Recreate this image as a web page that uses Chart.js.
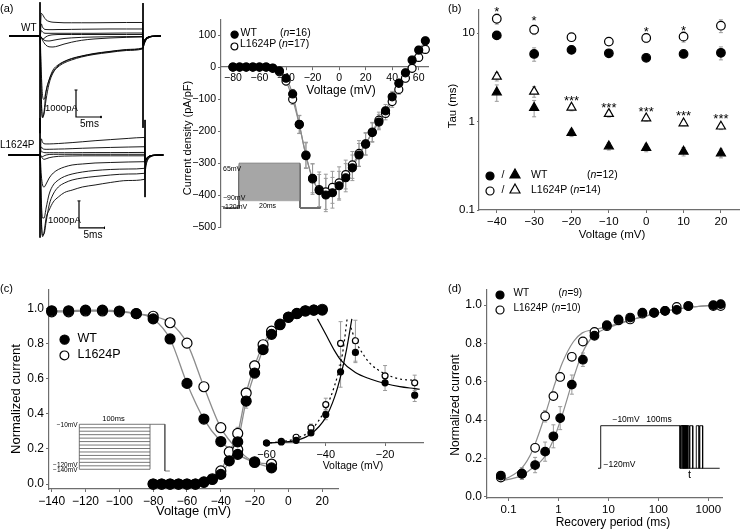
<!DOCTYPE html>
<html>
<head>
<meta charset="utf-8">
<script src="https://cdn.jsdelivr.net/npm/chart.js@4.4.1/dist/chart.umd.min.js"></script>
<style>
  body { margin: 0; background: #fff; }
  #fig { position: relative; width: 746px; height: 530px; overflow: hidden;
         font-family: "Liberation Sans", Arial, sans-serif; color: #000; }
  #fig canvas { position: absolute; }
  .t { position: absolute; white-space: nowrap; line-height: 1; }
  .m { position: absolute; }
</style>
</head>
<body>
<div id="fig"></div>
<script>
// ---------- (a) current traces: time in ms, current in pA ----------
const traceT = [0, 6.1, 6.2, 6.45, 6.7, 7.0, 7.4, 8.0, 8.8, 9.8, 11, 12.5, 14.5, 17, 20, 23.5, 26.7, 26.8, 27.0, 27.3, 27.8, 28.6, 30.4];
const wtTraces = [
  [0,0,0,-2185,-3037,-2815,-2074,-1630,-1260,-1074,-944,-833,-741,-648,-574,-500,-444,-430,-300,-170,-75,-20,0],
  [0,0,0,-2370,-3000,-2890,-2370,-1778,-1370,-1148,-1000,-889,-778,-685,-611,-537,-481,-460,-320,-180,-80,-20,0],
  [0,0,0,-1300,-2200,-2350,-2050,-1650,-1330,-1110,-960,-850,-750,-660,-585,-515,-460,-440,-310,-175,-78,-20,0],
  [0,0,0,-60,-150,-250,-340,-400,-407,-370,-300,-230,-160,-110,-75,-50,-37,-300,-200,-110,-45,-10,0],
  [0,0,0,-40,-100,-150,-180,-185,-160,-125,-93,-70,-50,-37,-28,-22,-19,-300,-190,-100,-40,-10,0],
  [0,0,0,-60,-110,-90,-30,20,45,55,55,55,55,55,55,55,55,-320,-200,-110,-45,-10,0],
  [0,0,0,200,150,110,100,100,100,100,100,100,100,100,105,110,110,-330,-210,-110,-45,-10,0],
  [0,0,0,450,330,260,240,235,235,240,240,245,250,255,260,260,260,-350,-220,-115,-45,-10,0],
  [0,0,0,840,800,700,600,540,510,500,490,490,490,490,495,500,500,-370,-230,-120,-48,-12,0]
];
const mutTraces = [
  [0,0,0,-2222,-3025,-2850,-2333,-2037,-1740,-1555,-1390,-1300,-1185,-1111,-1018,-944,-900,-700,-400,-200,-80,-20,0],
  [0,0,0,-2407,-2963,-2926,-2481,-1850,-1444,-1185,-1037,-926,-852,-796,-741,-704,-678,-550,-330,-170,-70,-15,0],
  [0,0,0,-1667,-2333,-2333,-1963,-1444,-1111,-926,-796,-704,-630,-574,-537,-519,-493,-420,-270,-140,-60,-15,0],
  [0,0,0,-741,-1111,-1185,-1074,-852,-667,-537,-444,-370,-333,-296,-278,-259,-248,-300,-200,-110,-45,-10,0],
  [0,0,0,-60,-130,-160,-140,-100,-70,-50,-40,-35,-30,-30,-30,-30,-30,-250,-170,-90,-35,-8,0],
  [0,0,0,-40,-60,-30,0,20,25,25,25,25,25,25,25,25,25,-230,-160,-85,-35,-8,0],
  [0,0,0,150,110,90,85,85,85,85,85,85,88,90,90,92,95,-220,-150,-80,-30,-8,0],
  [0,0,0,300,240,215,210,212,215,220,225,235,250,265,280,295,307,-220,-150,-80,-30,-8,0],
  [0,0,0,600,470,420,410,410,415,425,440,460,490,530,570,615,650,-240,-160,-85,-35,-8,0]
];
// capacitive transients at pulse on / off: [time, top, bottom]
const wtSpikes = [[6.2, 1250, -3600], [26.8, 1220, -3400]];
const mutSpikes = [[6.2, 1370, -3060], [26.8, 1300, -1560]];

// ---------- (a) I-V relation ----------
const ivV = [-80,-75,-70,-65,-60,-55,-50,-45,-40,-35,-30,-25,-20,-15,-10,-5,0,5,10,15,20,25,30,35,40,45,50,55,60,65];
const ivWt = [0,0,0,0,0,0,-3,-12,-35,-84,-179,-277,-348,-386,-400,-393,-371,-346,-315,-275,-241,-205,-172,-137,-93,-51,-18,22,53,82];
const ivMut = [0,0,0,0,0,0,-4,-15,-44,-101,-180,-275,-350,-383,-390,-376,-362,-336,-306,-270,-240,-203,-166,-145,-108,-70,-35,-4,30,55];
const ivWtErr = [0,0,0,0,0,0,3,6,10,14,28,40,45,50,52,48,45,44,40,36,34,30,24,20,17,15,12,12,12,12];
const ivMutErr = [0,0,0,0,0,0,3,6,12,16,28,40,48,55,55,50,50,45,42,40,35,30,25,20,18,15,12,12,12,12];
const ivXTicks = [-80,-60,-40,-20,0,20,40,60];
const ivYTicks = [-500,-400,-300,-200,-100,0,100];
const ivStepLevels = [65,60,55,50,45,40,35,30,25,20,15,10,5,0,-5,-10,-15,-20,-25,-30,-35,-40,-45,-50,-55,-60,-65,-70,-75,-80,-85,-90];

// ---------- (b) time constants ----------
const tauV = [-40,-30,-20,-10,0,10,20];
const tauSlowWt = [9.4,5.8,6.45,5.9,5.25,5.8,5.97];
const tauSlowMut = [14.5,10.9,8.97,8.0,8.8,9.1,12.1];
const tauFastWt = [2.14,1.43,0.745,0.526,0.505,0.458,0.438];
const tauFastMut = [3.22,2.18,1.44,1.22,1.09,0.957,0.88];
const tauSlowWtErr = [0.6,1.0,0.3,0.3,0.3,0.5,1.0];
const tauSlowMutErr = [1.9,1.3,0.5,0.4,1.0,1.2,2.0];
const tauFastWtErr = [0.45,0.3,0.07,0.05,0.05,0.05,0.05];
const tauFastMutErr = [0.35,0.3,0.12,0.1,0.08,0.06,0.07];
const starV = [-40,-30,0,10,-20,-10,0,10,20];
const starTau = [17.1,13.5,10.1,10.5,1.68,1.40,1.26,1.15,1.05];
const starText = ['*','*','*','*','***','***','***','***','***'];

// ---------- (c) steady-state activation / inactivation ----------
const inactV = [-140,-130,-120,-110,-100,-90,-80,-70,-60,-50,-40,-30,-20,-10];
const inactWt = [0.986,0.986,0.99,0.99,0.985,0.97,0.94,0.826,0.573,0.37,0.242,0.169,0.123,0.092];
const inactMut = [0.98,0.98,0.985,0.985,0.98,0.97,0.955,0.918,0.802,0.554,0.321,0.196,0.127,0.114];
const inactWtErr = [0,0,0,0,0,0,0.01,0.015,0.02,0.02,0.02,0.015,0.01,0.01];
const inactMutErr = [0,0,0,0,0,0,0.01,0.015,0.02,0.025,0.02,0.015,0.01,0.01];
const actV = [-80,-75,-70,-65,-60,-55,-50,-45,-40,-35,-30,-25,-20,-15,-10,-5,0,5,10,15,20];
const actWt = [0,0,0,0,0,0,0.01,0.026,0.055,0.132,0.24,0.472,0.632,0.765,0.852,0.907,0.949,0.971,0.986,0.99,0.99];
const actMut = [0,0,0,0,0,0,0.012,0.03,0.075,0.183,0.288,0.518,0.673,0.793,0.87,0.91,0.95,0.97,0.985,0.99,0.995];
const actWtErr = [0,0,0,0,0,0,0,0.01,0.015,0.02,0.03,0.04,0.03,0.02,0.015,0.01,0.01,0.01,0.01,0.01,0.01];
const actMutErr = [0,0,0,0,0,0,0,0.01,0.015,0.02,0.035,0.03,0.03,0.02,0.015,0.01,0.01,0.01,0.01,0.01,0.01];
const cXTicks = [-140,-120,-100,-80,-60,-40,-20,0,20];
const cYTicks = [0,0.2,0.4,0.6,0.8,1.0];
const cStepLevels = [-10,-20,-30,-40,-50,-60,-70,-80,-90,-100,-110,-120,-130,-140];

// (c) inset: window region
const winV = [-60,-55,-50,-45,-40,-35,-30,-20,-10];
const winWt = [0.0,0.008,0.021,0.079,0.222,0.556,0.708,0.47,0.374];
const winMut = [0.0,0.013,0.045,0.118,0.3,0.778,0.799,0.525,0.47];
const winWtErr = [0,0.01,0.01,0.02,0.04,0.12,0.08,0.06,0.05];
const winMutErr = [0,0.01,0.015,0.03,0.05,0.17,0.16,0.08,0.06];
const riseWtV = [-60.5,-55,-50,-45,-40,-37,-35,-33,-31.2];
const riseWt = [0,0.006,0.02,0.07,0.2,0.36,0.52,0.73,0.97];
const riseMutV = [-60.5,-55,-50,-45,-40,-37,-35,-34,-32.8];
const riseMut = [0,0.01,0.035,0.1,0.27,0.45,0.62,0.75,0.97];
const fallWtV = [-42.8,-40,-37,-35,-30,-25,-20,-15,-10,-8.3];
const fallWt = [0.97,0.85,0.72,0.65,0.55,0.5,0.465,0.44,0.425,0.42];
const fallMutV = [-31.5,-30,-27,-25,-20,-15,-10];
const fallMut = [0.9,0.8,0.68,0.62,0.54,0.5,0.49];
const winXTicks = [-60,-40,-20];

// ---------- (d) recovery from inactivation ----------
const recT = [0.07,0.185,0.34,0.54,0.79,1.08,1.85,3.08,5.25,9.3,15.9,27.2,47.9,82,136,233,398,1259,1770];
const recWt = [0.11,0.12,0.165,0.235,0.315,0.41,0.585,0.715,0.84,0.895,0.925,0.935,0.96,0.96,0.97,0.975,0.995,1.0,1.005];
const recMut = [0.1,0.12,0.255,0.42,0.525,0.625,0.73,0.81,0.86,0.89,0.92,0.925,0.955,0.96,0.97,0.99,0.995,0.995,0.995];
const recWtErr = [0.02,0.03,0.04,0.05,0.06,0.06,0.05,0.035,0.015,0.01,0.01,0.01,0.01,0.01,0.01,0.01,0.005,0.005,0.005];
const recMutErr = [0.02,0.03,0.02,0.03,0.02,0.02,0.02,0.01,0.01,0.01,0.01,0.01,0.01,0.01,0.01,0.01,0.005,0.005,0.005];
const fitT = [0.065,0.1,0.185,0.3,0.5,0.8,1.2,2,3,5,9,16,30,60,120,250,500,1000,1900];
const fitWt = [0.08,0.09,0.11,0.15,0.2,0.3,0.43,0.62,0.75,0.84,0.878,0.9,0.925,0.945,0.965,0.98,0.99,0.997,1.0];
const fitMut = [0.085,0.1,0.15,0.24,0.4,0.57,0.7,0.81,0.855,0.872,0.885,0.905,0.925,0.945,0.965,0.98,0.99,0.997,1.0];
const recXTicks = [0.1,1,10,100,1000];
const recYTicks = [0,0.2,0.4,0.6,0.8,1.0];
const recGaps = [0.5,1.5,2.5,3.5,4.5,6,8,12.5,20.5,25];

// ---------- helpers ----------
Chart.defaults.font.family = '"Liberation Sans", Arial, sans-serif';
Chart.defaults.color = '#000';
const fig = document.getElementById('fig');
const axisColor = '#6e6e6e';
const minus = v => String(v).replace('-', '\u2212');
const pts = (xs, ys) => xs.map((x, i) => ({x: x, y: ys[i]}));

function addCanvas(left, top, w, h) {
  const c = document.createElement('canvas');
  c.width = w; c.height = h;
  c.style.left = left + 'px'; c.style.top = top + 'px';
  c.style.width = w + 'px'; c.style.height = h + 'px';
  fig.appendChild(c);
  return c;
}

function label(str, x, y, size, align, rot) {
  const d = document.createElement('div');
  d.className = 't';
  d.innerHTML = str;
  d.style.left = x + 'px';
  d.style.top = y + 'px';
  d.style.fontSize = size + 'px';
  const tx = align === 'l' ? '0' : align === 'r' ? '-100%' : '-50%';
  d.style.transform = 'translate(' + tx + ',-50%)' + (rot ? ' rotate(-90deg)' : '');
  fig.appendChild(d);
}

function marker(shape, filled, x, y, r) {
  const s = 2 * r + 4;
  const c = s / 2;
  const fill = filled ? '#000' : '#fff';
  const body = shape === 'tri'
    ? '<polygon points="' + c + ',' + (c - r) + ' ' + (c + r) + ',' + (c + r * 0.8) + ' ' + (c - r) + ',' + (c + r * 0.8) + '" fill="' + fill + '" stroke="#000" stroke-width="1.2"/>'
    : '<circle cx="' + c + '" cy="' + c + '" r="' + r + '" fill="' + fill + '" stroke="#000" stroke-width="1.2"/>';
  const d = document.createElement('div');
  d.className = 'm';
  d.style.left = (x - c) + 'px';
  d.style.top = (y - c) + 'px';
  d.innerHTML = '<svg width="' + s + '" height="' + s + '">' + body + '</svg>';
  fig.appendChild(d);
}

// gray SEM bars under the markers
const errorBars = {
  id: 'errorBars',
  beforeDatasetsDraw(chart) {
    const ctx = chart.ctx;
    chart.data.datasets.forEach((ds, i) => {
      if (!ds.errors) return;
      const meta = chart.getDatasetMeta(i);
      const ys = chart.scales[meta.yAxisID];
      ctx.save();
      ctx.strokeStyle = '#9a9a9a';
      ctx.lineWidth = 1;
      meta.data.forEach((pt, j) => {
        const e = ds.errors[j];
        if (!e) return;
        const v = ds.data[j].y;
        const lo = ys.type === 'logarithmic' ? Math.max(v - e, v * 0.2) : v - e;
        const top = ys.getPixelForValue(v + e);
        const bot = ys.getPixelForValue(lo);
        ctx.beginPath();
        ctx.moveTo(pt.x, top); ctx.lineTo(pt.x, bot);
        ctx.moveTo(pt.x - 2, top); ctx.lineTo(pt.x + 2, top);
        ctx.moveTo(pt.x - 2, bot); ctx.lineTo(pt.x + 2, bot);
        ctx.stroke();
      });
      ctx.restore();
    });
  }
};

function markers(data, filled, r, style, errors) {
  return {
    data: data, errors: errors, showLine: false, clip: false,
    pointStyle: style || 'circle', pointRadius: r,
    pointBackgroundColor: filled ? '#000' : '#fff',
    pointBorderColor: '#000', pointBorderWidth: 1.2
  };
}

function curve(data, color, width, dash) {
  return {
    data: data, pointRadius: 0, borderColor: color, borderWidth: width,
    borderDash: dash || [], cubicInterpolationMode: 'monotone', clip: false
  };
}

function linAxis(min, max, ticks, fmt, size, extra) {
  return Object.assign({
    type: 'linear', min: min, max: max,
    afterBuildTicks: s => { s.ticks = ticks.map(v => ({value: v})); },
    border: {display: true, color: axisColor, width: 1.2},
    grid: {display: true, drawOnChartArea: false, drawTicks: true, tickLength: 3, color: axisColor},
    ticks: {font: {size: size}, padding: 2, autoSkip: false, maxRotation: 0, callback: fmt}
  }, extra || {});
}

function baseOptions(padding, scales) {
  return {
    responsive: false, animation: false, events: [],
    layout: {padding: padding},
    plugins: {legend: {display: false}, tooltip: {enabled: false}},
    scales: scales
  };
}

// hidden axes, chart area = whole canvas
function bareScales(xMin, xMax, yMin, yMax) {
  return {
    x: {type: 'linear', display: false, min: xMin, max: xMax},
    y: {type: 'linear', display: false, min: yMin, max: yMax}
  };
}

// ---------- (a) traces ----------
function traceChart(box, xr, yr, traces, spikes, barT, barI) {
  const ds = traces.map(tr => ({
    data: pts(traceT, tr), pointRadius: 0, borderColor: '#000', borderWidth: 0.9,
    cubicInterpolationMode: 'monotone'
  }));
  spikes.forEach(sp => ds.push({data: [{x: sp[0], y: sp[1]}, {x: sp[0], y: sp[2]}],
    pointRadius: 0, borderColor: '#000', borderWidth: 1}));
  ds.push({data: [{x: barT, y: barI + 1000}, {x: barT, y: barI}, {x: barT + 5, y: barI}],
    pointRadius: 0, borderColor: '#000', borderWidth: 1.2});
  ds.push({data: [{x: barT - 0.3, y: barI + 1000}, {x: barT + 0.3, y: barI + 1000}],
    pointRadius: 0, borderColor: '#000', borderWidth: 1});
  ds.push({data: [{x: barT + 5, y: barI + 40}, {x: barT + 5, y: barI - 40}],
    pointRadius: 0, borderColor: '#000', borderWidth: 1});
  new Chart(addCanvas(box[0], box[1], box[2], box[3]), {
    type: 'line', data: {datasets: ds},
    options: baseOptions(0, bareScales(xr[0], xr[1], yr[0], yr[1]))
  });
}
traceChart([0, 0, 165, 140], [-1.8, 31.2], [-3851.9, 1333.3], wtTraces, wtSpikes, 13.4, -3000);
traceChart([0, 115, 165, 130], [-1.648, 30.72], [-3333.3, 1481.5], mutTraces, mutSpikes, 13.85, -2700);

// ---------- (a) I-V ----------
new Chart(addCanvas(165, 10, 270, 245), {
  type: 'line',
  data: {datasets: [
    markers(pts(ivV, ivWt), true, 4, 'circle', ivWtErr),
    markers(pts(ivV, ivMut), false, 4, 'circle', ivMutErr),
    curve(pts(ivV, ivWt), '#8a8a8a', 1.2),
    curve(pts(ivV, ivMut), '#8a8a8a', 1.2)
  ]},
  options: baseOptions({left: 0, top: 10, right: 7, bottom: 28}, {
    x: linAxis(-89, 67, ivXTicks, minus, 10.5, {position: {y: 0}, afterFit: s => { s.height = 0; }}),
    y: linAxis(-500, 147, ivYTicks, minus, 10.5, {afterFit: s => { s.width = 56; }})
  }),
  plugins: [errorBars]
});

// I-V protocol inset
(function () {
  const ds = ivStepLevels.map((v, i) => ({
    data: pts([-5.2, 0, 0, 20, 20, 26.6], [-120, -120, v, v, -120, -120]),
    pointRadius: 0, borderColor: '#6f6f6f', borderWidth: 0.6,
    fill: i === 0 ? {target: ivStepLevels.length - 1} : false,
    backgroundColor: '#a6a6a6'
  }));
  new Chart(addCanvas(215, 155, 110, 60), {
    type: 'line', data: {datasets: ds},
    options: baseOptions(0, bareScales(-7.87, 28.2, -148.8, 97.9))
  });
})();

// ---------- (b) ----------
new Chart(addCanvas(440, 0, 306, 250), {
  type: 'line',
  data: {datasets: [
    markers(pts(tauV, tauSlowWt), true, 4.3, 'circle', tauSlowWtErr),
    markers(pts(tauV, tauSlowMut), false, 4.3, 'circle', tauSlowMutErr),
    markers(pts(tauV, tauFastWt), true, 5.2, 'triangle', tauFastWtErr),
    markers(pts(tauV, tauFastMut), false, 5.2, 'triangle', tauFastMutErr)
  ]},
  options: baseOptions({left: 9, top: 10, right: 3, bottom: 20}, {
    x: linAxis(-44.76, 25, tauV, minus, 11.5, {afterFit: s => { s.height = 20; }}),
    y: {
      type: 'logarithmic', min: 0.1, max: 18.2,
      afterBuildTicks: s => { s.ticks = [0.1, 1, 10].map(v => ({value: v})); },
      afterFit: s => { s.width = 30; },
      border: {display: true, color: axisColor, width: 1.2},
      grid: {display: true, drawOnChartArea: false, drawTicks: true, tickLength: 2, color: axisColor},
      ticks: {font: {size: 11.5}, padding: 2, callback: v => String(v)}
    }
  }),
  plugins: [errorBars, {
    id: 'stars',
    afterDatasetsDraw(chart) {
      const ctx = chart.ctx;
      ctx.save();
      ctx.font = '13px "Liberation Sans", Arial, sans-serif';
      ctx.textAlign = 'center';
      ctx.textBaseline = 'middle';
      ctx.fillStyle = '#000';
      starV.forEach((v, i) => ctx.fillText(starText[i],
        chart.scales.x.getPixelForValue(v), chart.scales.y.getPixelForValue(starTau[i])));
      ctx.restore();
    }
  }]
});

// ---------- (c) ----------
new Chart(addCanvas(0, 280, 345, 250), {
  type: 'line',
  data: {datasets: [
    markers(pts(inactV, inactWt), true, 5, 'circle', inactWtErr),
    markers(pts(actV, actWt), true, 5, 'circle', actWtErr),
    markers(pts(inactV, inactMut), false, 5, 'circle', inactMutErr),
    markers(pts(actV, actMut), false, 5, 'circle', actMutErr),
    curve(pts(inactV, inactWt), '#8c8c8c', 1.3),
    curve(pts(inactV, inactMut), '#8c8c8c', 1.3),
    curve(pts(actV, actWt), '#8c8c8c', 1.3),
    curve(pts(actV, actMut), '#8c8c8c', 1.3)
  ]},
  options: baseOptions({left: 9, top: 3, right: 7, bottom: 19}, {
    x: linAxis(-141.6, 29.3, cXTicks, minus, 12, {afterFit: s => { s.height = 22; }}),
    y: linAxis(-0.028, 1.109, cYTicks, v => v.toFixed(1), 12, {afterFit: s => { s.width = 40; }})
  }),
  plugins: [errorBars]
});

// (c) inset
new Chart(addCanvas(255, 300, 175, 170), {
  type: 'line',
  data: {datasets: [
    markers(pts(winV, winWt), true, 3, 'circle', winWtErr),
    markers(pts(winV, winMut), false, 3, 'circle', winMutErr),
    curve(pts(riseWtV, riseWt), '#000', 1.2),
    curve(pts(fallWtV, fallWt), '#000', 1.2),
    curve(pts(riseMutV, riseMut), '#000', 1.2, [2, 3]),
    curve(pts(fallMutV, fallMut), '#000', 1.2, [2, 3])
  ]},
  options: baseOptions({left: 10, top: 15, right: 7, bottom: 9}, {
    x: linAxis(-60.5, -7.2, winXTicks, minus, 11, {afterFit: s => { s.height = 18; }}),
    y: {type: 'linear', display: false, min: 0, max: 1}
  }),
  plugins: [errorBars]
});

// (c) protocol inset
(function () {
  const ds = cStepLevels.map(v => ({
    data: pts([0, 100], [v, v]), pointRadius: 0, borderColor: '#555', borderWidth: 0.8
  }));
  ds.push({data: pts([0, 0], [-140, -10]), pointRadius: 0, borderColor: '#555', borderWidth: 0.8});
  ds.push({data: pts([100, 100, 121, 121, 128], [-140, -10, -10, -145, -145]),
    pointRadius: 0, borderColor: '#555', borderWidth: 0.8});
  new Chart(addCanvas(40, 410, 140, 70), {
    type: 'line', data: {datasets: ds},
    options: baseOptions(0, bareScales(-55.6, 142.4, -171, 31.3))
  });
})();

// ---------- (d) ----------
new Chart(addCanvas(440, 280, 306, 250), {
  type: 'line',
  data: {datasets: [
    markers(pts(recT, recWt), true, 4.3, 'circle', recWtErr),
    markers(pts(recT, recMut), false, 4.3, 'circle', recMutErr),
    curve(pts(fitT, fitWt), '#8c8c8c', 1.2),
    curve(pts(fitT, fitMut), '#8c8c8c', 1.2)
  ]},
  options: baseOptions({left: 12, top: 9, right: 24, bottom: 12}, {
    x: {
      type: 'logarithmic', min: 0.037, max: 1879,
      afterBuildTicks: s => { s.ticks = recXTicks.map(v => ({value: v})); },
      afterFit: s => { s.height = 20; },
      border: {display: true, color: axisColor, width: 1.2},
      grid: {display: true, drawOnChartArea: false, drawTicks: true, tickLength: 3, color: axisColor},
      ticks: {font: {size: 11.5}, padding: 2, maxRotation: 0, autoSkip: false, callback: v => String(v)}
    },
    y: linAxis(-0.007, 1.083, recYTicks, v => v.toFixed(1), 12, {afterFit: s => { s.width = 35; }})
  }),
  plugins: [errorBars]
});

// (d) protocol inset
(function () {
  const ds = [{data: pts([-3.4, 0, 0, 100, 100, 150], [-120, -120, -10, -10, -120, -120]),
    pointRadius: 0, borderColor: '#000', borderWidth: 0.9}];
  recGaps.forEach(g => ds.push({
    data: pts([100 + g, 100 + g, 103.5 + g, 103.5 + g], [-120, -10, -10, -120]),
    pointRadius: 0, borderColor: '#000', borderWidth: 0.9
  }));
  new Chart(addCanvas(590, 410, 140, 70), {
    type: 'line', data: {datasets: ds},
    options: baseOptions(0, bareScales(-13.5, 163, -150.3, 30.6))
  });
})();

// ---------- text ----------
label('(a)', 0, 8, 11, 'l');
label('WT', 21, 28, 10, 'l');
label('L1624P', 0, 145, 10, 'l');
label('1000pA', 45, 107.5, 9.5, 'l');
label('5ms', 89.5, 123.5, 10, 'c');
label('1000pA', 48, 219.5, 9.5, 'l');
label('5ms', 93, 235, 10, 'c');

label('Current density (pA/pF)', 187, 137.5, 11, 'c', true);
label('Voltage (mV)', 341, 89.5, 12, 'c');
marker('circle', true, 235, 31.7, 3.6);
label('WT', 240.5, 31.7, 10.5, 'l');
label('(<i>n</i>=16)', 280, 31.7, 10.5, 'l');
marker('circle', false, 234, 43.3, 3.4);
label('L1624P', 240, 43.3, 10.5, 'l');
label('(<i>n</i>=17)', 278.5, 43.3, 10.5, 'l');
label('65mV', 223, 167.5, 7, 'l');
label('\u221290mV', 223, 196.5, 7, 'l');
label('\u2212120mV', 221, 205.5, 7, 'l');
label('20ms', 259, 205, 7, 'l');

label('(b)', 448, 7.5, 11, 'l');
label('Tau (ms)', 453, 106, 11.5, 'c', true);
label('Voltage (mV)', 612, 235, 11.5, 'c');
marker('circle', true, 489.5, 174, 4);
label('/', 503, 174, 10.5, 'c');
marker('tri', true, 515, 174, 5);
label('WT', 531, 174, 10.5, 'l');
label('(<i>n</i>=12)', 587, 174, 10.5, 'l');
marker('circle', false, 489.5, 188.5, 4);
label('/', 503, 188.5, 10.5, 'c');
marker('tri', false, 515, 188.5, 5);
label('L1624P', 531, 188.5, 10.5, 'l');
label('(<i>n</i>=14)', 570, 188.5, 10.5, 'l');

label('(c)', 0, 288, 11, 'l');
label('Normalized current', 15, 399, 13, 'c', true);
label('Voltage (mV)', 193.5, 510, 13, 'c');
marker('circle', true, 64.3, 338.3, 4.6);
label('WT', 77.5, 338.3, 12.5, 'l');
marker('circle', false, 64.3, 354, 4.4);
label('L1624P', 77.5, 354, 12.5, 'l');
label('Voltage (mV)', 353, 465, 10.5, 'c');
label('100ms', 113.5, 419, 7.5, 'c');
label('\u221210mV', 77.5, 424.5, 6.5, 'r');
label('\u2212120mV', 77.5, 465, 6.5, 'r');
label('\u2212140mV', 77.5, 470, 6.5, 'r');

label('(d)', 448, 287.5, 11, 'l');
label('Normalized current', 455, 405, 12, 'c', true);
label('Recovery period (ms)', 613, 522, 12, 'c');
marker('circle', true, 500, 293.3, 4);
label('WT', 513.5, 293.3, 10, 'l');
label('(<i>n</i>=9)', 558.5, 293.3, 10, 'l');
marker('circle', false, 500, 308.3, 4);
label('L1624P', 513.5, 308.3, 10, 'l');
label('(<i>n</i>=10)', 551.5, 308.3, 10, 'l');
label('\u221210mV', 626, 419, 8.5, 'c');
label('100ms', 659, 419, 8.5, 'c');
label('\u2212120mV', 603.5, 463.5, 8.5, 'l');
label('t', 689.5, 474, 11, 'c');
</script>
</body>
</html>
